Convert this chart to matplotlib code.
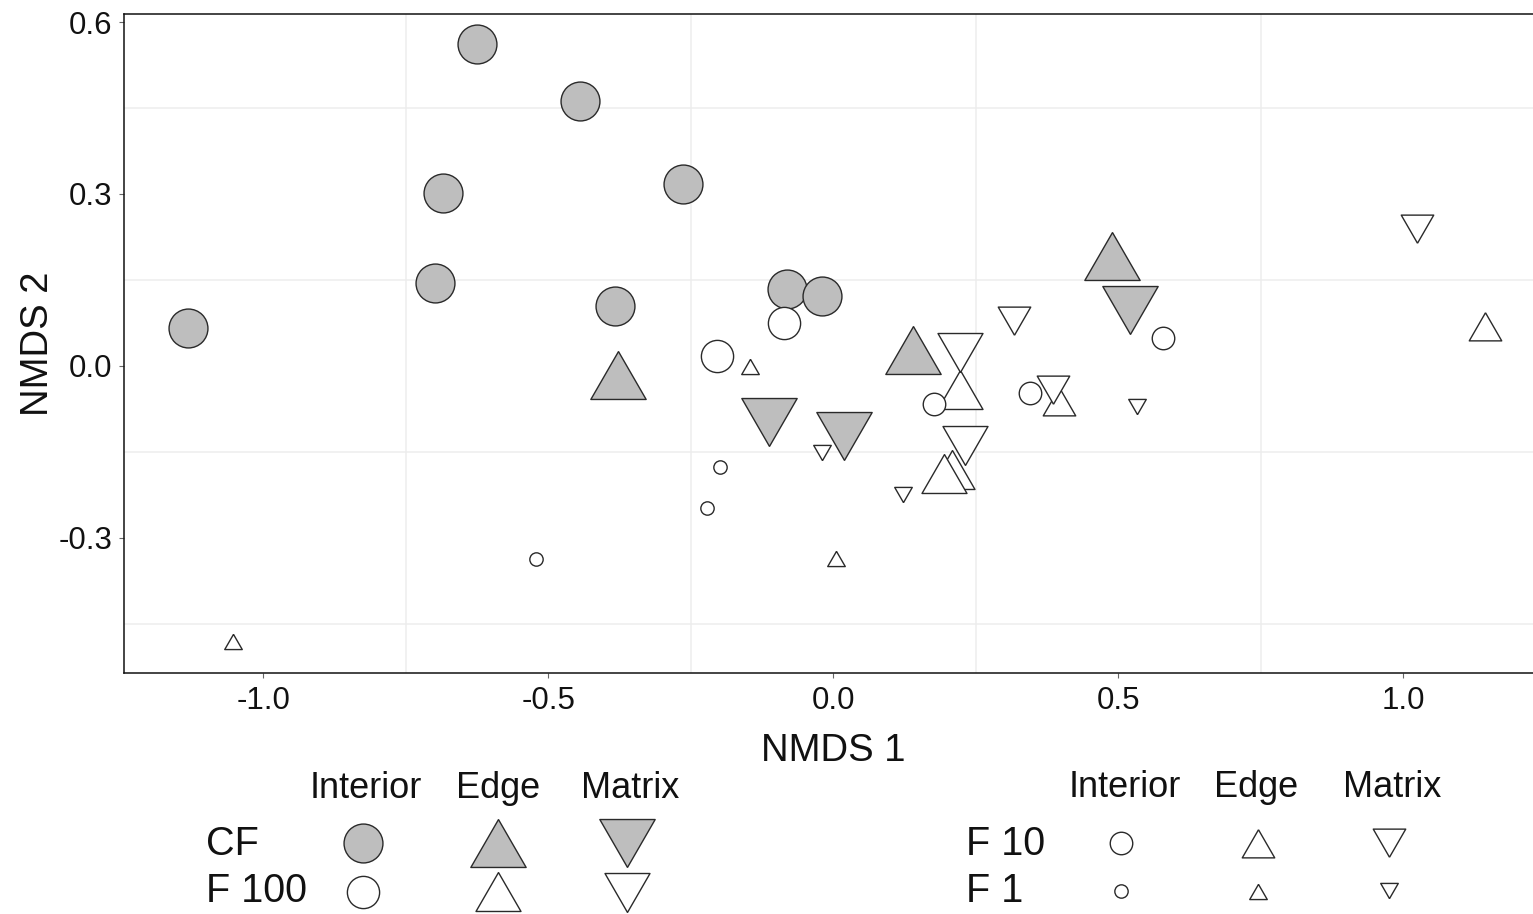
import matplotlib
matplotlib.use('Agg')
import matplotlib.pyplot as plt

plt.rcParams['font.family'] = ['Liberation Sans', 'DejaVu Sans']
plt.rcParams['axes.unicode_minus'] = False

# ---------------- data (NMDS scores) ----------------
cf_interior_x = [-0.624, -0.444, -0.685, -0.264, -0.699, -0.382, -0.080, -0.020, -1.132]
cf_interior_y = [0.562, 0.462, 0.301, 0.317, 0.144, 0.105, 0.134, 0.122, 0.066]
cf_edge_x = [-0.378, 0.141, 0.489]
cf_edge_y = [-0.030, 0.013, 0.178]
cf_matrix_x = [-0.112, 0.020, 0.521]
cf_matrix_y = [-0.084, -0.109, 0.112]

f100_interior_x = [-0.086, -0.204]
f100_interior_y = [0.075, 0.017]
f100_edge_x = [0.208, 0.222, 0.194]
f100_edge_y = [-0.193, -0.053, -0.199]
f100_matrix_x = [0.222, 0.232]
f100_matrix_y = [0.034, -0.127]

f10_interior_x = [0.177, 0.346, 0.578]
f10_interior_y = [-0.066, -0.047, 0.048]
f10_edge_x = [0.396, 1.144]
f10_edge_y = [-0.070, 0.061]
f10_matrix_x = [0.385, 1.025, 0.318]
f10_matrix_y = [-0.033, 0.247, 0.087]

f1_interior_x = [-0.198, -0.221, -0.522]
f1_interior_y = [-0.176, -0.248, -0.337]
f1_edge_x = [-0.146, 0.005, -1.052]
f1_edge_y = [-0.005, -0.340, -0.485]
f1_matrix_x = [-0.020, 0.123, 0.533]
f1_matrix_y = [-0.146, -0.221, -0.067]

treatments = ['CF', 'F 100', 'F 10', 'F 1']
habitats = ['Interior', 'Edge', 'Matrix']
x_ticks = [-1.0, -0.5, 0.0, 0.5, 1.0]
x_tick_labels = ['-1.0', '-0.5', '0.0', '0.5', '1.0']
y_ticks = [-0.3, 0.0, 0.3, 0.6]
y_tick_labels = ['-0.3', '0.0', '0.3', '0.6']

data = {
    ('CF', 'Interior'): (cf_interior_x, cf_interior_y),
    ('CF', 'Edge'): (cf_edge_x, cf_edge_y),
    ('CF', 'Matrix'): (cf_matrix_x, cf_matrix_y),
    ('F 100', 'Interior'): (f100_interior_x, f100_interior_y),
    ('F 100', 'Edge'): (f100_edge_x, f100_edge_y),
    ('F 100', 'Matrix'): (f100_matrix_x, f100_matrix_y),
    ('F 10', 'Interior'): (f10_interior_x, f10_interior_y),
    ('F 10', 'Edge'): (f10_edge_x, f10_edge_y),
    ('F 10', 'Matrix'): (f10_matrix_x, f10_matrix_y),
    ('F 1', 'Interior'): (f1_interior_x, f1_interior_y),
    ('F 1', 'Edge'): (f1_edge_x, f1_edge_y),
    ('F 1', 'Matrix'): (f1_matrix_x, f1_matrix_y),
}

# ---------------- styles ----------------
UP = [(0, 1), (-0.866, -0.5), (0.866, -0.5), (0, 1)]
DOWN = [(0, -1), (-0.866, 0.5), (0.866, 0.5), (0, -1)]
marker_for = {'Interior': 'o', 'Edge': UP, 'Matrix': DOWN}
fill_for = {'CF': '#BEBEBE', 'F 100': 'white', 'F 10': 'white', 'F 1': 'white'}
circle_pt = {'CF': 28.0, 'F 100': 23.2, 'F 10': 16.2, 'F 1': 9.6}
tri_pt = {'CF': 46.0, 'F 100': 37.4, 'F 10': 27.0, 'F 1': 14.6}
EDGE = '#2a2a2a'
LW = 1.0


def msize(trt, hab):
    return (circle_pt[trt] if hab == 'Interior' else tri_pt[trt]) ** 2


W, H = 1533, 914
fig = plt.figure(figsize=(W / 100, H / 100), dpi=100)
ax = fig.add_axes([124 / W, 1 - 673 / H, (W - 124) / W, (673 - 14) / H])
ax.set_xlim(-1.244, 1.228)
ax.set_ylim(-0.536, 0.614)

z = 3
for trt in treatments:
    for hab in habitats:
        xs, ys = data[(trt, hab)]
        ax.scatter(xs, ys, s=msize(trt, hab), marker=marker_for[hab],
                   facecolor=fill_for[trt], edgecolor=EDGE, linewidths=LW,
                   zorder=z)
    z += 1

ax.set_xticks(x_ticks)
ax.set_xticklabels(x_tick_labels)
ax.set_yticks(y_ticks)
ax.set_yticklabels(y_tick_labels)
ax.set_xticks([-0.75, -0.25, 0.25, 0.75], minor=True)
ax.set_yticks([-0.45, -0.15, 0.15, 0.45], minor=True)
ax.tick_params(which='minor', length=0)
ax.tick_params(which='major', length=3.6, width=0.8, color='#666666',
               labelsize=22.5, labelcolor='#111111')
ax.tick_params(axis='x', which='major', pad=5.5)
ax.tick_params(axis='y', which='major', pad=4.5)
ax.grid(which='minor', color='#EDEDED', lw=1.1)
ax.grid(which='major', visible=False)
ax.set_axisbelow(True)
for side in ['top', 'left', 'bottom']:
    ax.spines[side].set_color('#111111')
    ax.spines[side].set_linewidth(1.1)
ax.spines['right'].set_visible(False)

ax.set_xlabel('NMDS 1', fontsize=27.5, color='#111111')
ax.xaxis.set_label_coords((833 - 124) / (W - 124), (673 - 751) / (673 - 14))
ax.xaxis.label.set_va('center')
ax.set_ylabel('NMDS 2', fontsize=27.5, color='#111111')
ax.yaxis.set_label_coords((38 - 124) / (W - 124), 0.5)
ax.yaxis.label.set_va('center')

# ---------------- manual two-block legend ----------------
lax = fig.add_axes([0, 0, 1, 1], zorder=10)
lax.set_xlim(0, W)
lax.set_ylim(H, 0)
lax.axis('off')

blocks = [
    {'rows': ['CF', 'F 100'], 'label_x': 206, 'col_x': [366, 498, 630],
     'mark_x': [363, 498, 627], 'row_base': [855, 902], 'row_y': [843, 892],
     'head_base': 798},
    {'rows': ['F 10', 'F 1'], 'label_x': 966, 'col_x': [1125, 1256, 1392],
     'mark_x': [1121, 1258, 1389], 'row_base': [855, 902], 'row_y': [843, 891],
     'head_base': 797},
]
tri_offset = {'Edge': 1, 'Matrix': -1}
for b in blocks:
    for cx, hab in zip(b['col_x'], habitats):
        lax.text(cx, b['head_base'], hab, fontsize=26, ha='center',
                 va='baseline', color='#111111')
    for trt, base, ry in zip(b['rows'], b['row_base'], b['row_y']):
        lax.text(b['label_x'], base, trt, fontsize=28.5, ha='left',
                 va='baseline', color='#111111')
        for cx, hab in zip(b['mark_x'], habitats):
            yy = ry
            if hab != 'Interior':
                yy = ry + tri_offset[hab] * tri_pt[trt] * 100 / 72 * 0.125
            lax.scatter([cx], [yy], s=msize(trt, hab), marker=marker_for[hab],
                        facecolor=fill_for[trt], edgecolor=EDGE,
                        linewidths=LW, clip_on=False)

fig.savefig('out.png', dpi=100)
